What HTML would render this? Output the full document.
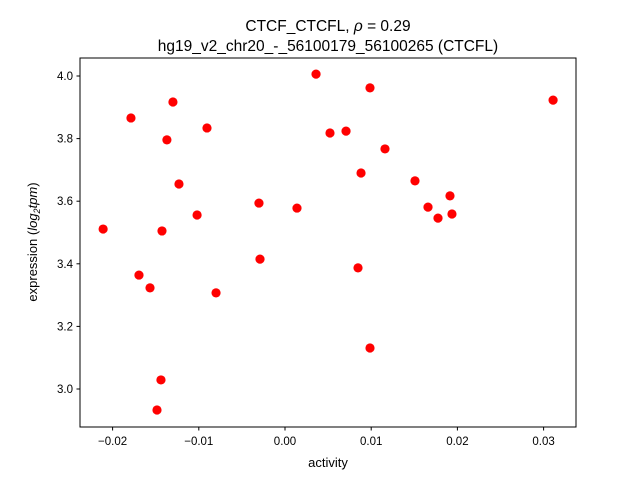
<!DOCTYPE html>
<html><head><meta charset="utf-8"><style>
body{margin:0;background:#fff;}
svg{display:block;font-family:"Liberation Sans","DejaVu Sans",sans-serif;}
</style></head><body>
<svg id="chart" width="640" height="480">
<rect width="640" height="480" fill="#fff"/>
<text x="328" y="31" text-anchor="middle" font-size="15.5">CTCF_CTCFL, <tspan font-style="italic">ρ</tspan> = 0.29</text>
<text x="328" y="51" text-anchor="middle" font-size="15.5">hg19_v2_chr20_-_56100179_56100265 (CTCFL)</text>
<g id="plot"></g>
<rect x="80" y="58" width="496" height="369" fill="none" stroke="#000" stroke-width="1"/>
<text x="328" y="467" text-anchor="middle" font-size="13">activity</text>
<text transform="translate(37,242) rotate(-90)" text-anchor="middle" font-size="13">expression (<tspan font-style="italic">log</tspan><tspan font-size="9" dy="3" font-style="italic">2</tspan><tspan dy="-3" font-style="italic">tpm</tspan>)</text>
</svg>
<script>
const xValues=[-0.0211,-0.01787,-0.0130,-0.0137,-0.00905,-0.0123,-0.0102,-0.01427,-0.01694,-0.01566,-0.0080,-0.01439,-0.01485,-0.00302,-0.0029,0.00139,0.0036,0.00522,0.00708,0.00986,0.0116,0.00882,0.00847,0.00986,0.01508,0.01659,0.01775,0.01914,0.01937,0.0311];
const yValues=[3.511,3.866,3.917,3.796,3.834,3.655,3.556,3.505,3.364,3.323,3.307,3.029,2.933,3.594,3.415,3.578,4.006,3.818,3.824,3.962,3.767,3.690,3.387,3.131,3.665,3.581,3.546,3.617,3.559,3.923];
const xTicks=[-0.02,-0.01,0.00,0.01,0.02,0.03];
const xTickLabels=["−0.02","−0.01","0.00","0.01","0.02","0.03"];
const yTicks=[3.0,3.2,3.4,3.6,3.8,4.0];
const yTickLabels=["3.0","3.2","3.4","3.6","3.8","4.0"];
const NS="http://www.w3.org/2000/svg";
const g=document.getElementById('plot');
function xs(v){return 285+v*8620;}
function ys(v){return 76+(4.0-v)*313;}
function mk(t,a){const e=document.createElementNS(NS,t);for(const k in a)e.setAttribute(k,a[k]);g.appendChild(e);return e;}
xTicks.forEach((t,i)=>{
 const l=mk('line',{x1:xs(t),x2:xs(t),y1:427,y2:430.5,stroke:'#000'});
 
 
 const tx=mk('text',{x:xs(t),y:445,'text-anchor':'middle','font-size':'11.5'});
 tx.textContent=xTickLabels[i];
 
 
});
yTicks.forEach((t,i)=>{
 const l=mk('line',{x1:76.5,x2:80,y1:ys(t),y2:ys(t),stroke:'#000'});
 
 
 const tx=mk('text',{x:73,y:ys(t)+4,'text-anchor':'end','font-size':'11.5'});
 tx.textContent=yTickLabels[i];
 
 
});
xValues.forEach((x,i)=>{
 const c=mk('circle',{cx:xs(x),cy:ys(yValues[i]),r:4.6,fill:'#ff0000'});
 
 
});
</script>
</body></html>
